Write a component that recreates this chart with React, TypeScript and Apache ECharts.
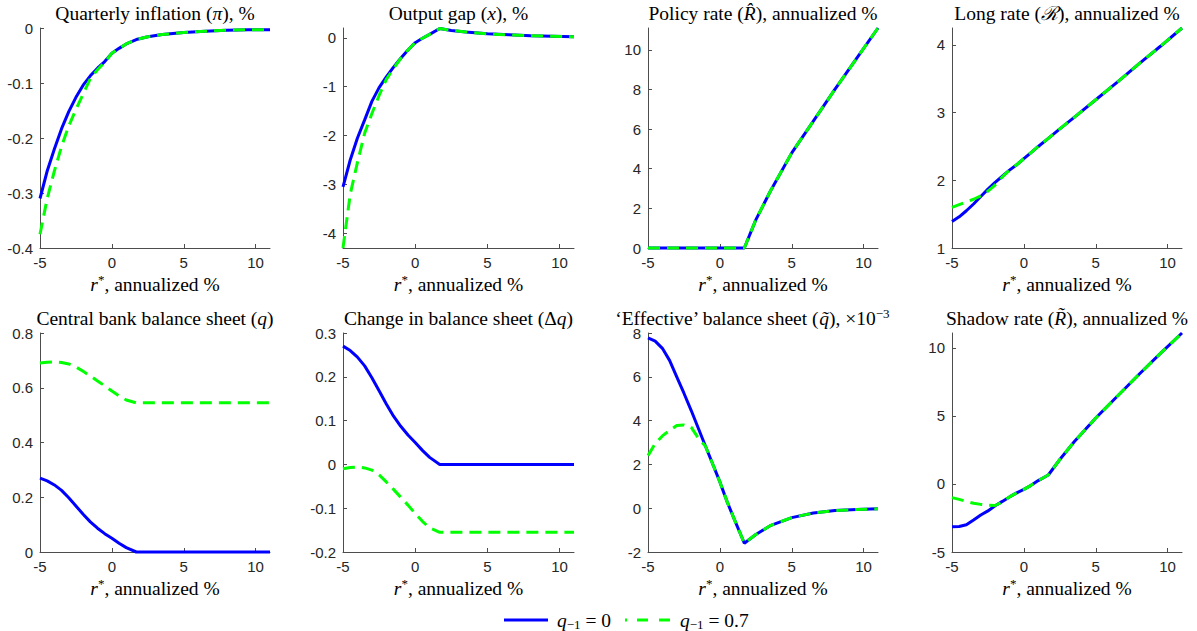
import React, { useEffect, useRef } from 'react';
import * as echarts from 'echarts';

// r*, annualized %
const X = [-5, -4.5, -4, -3.5, -3, -2.5, -2, -1.5, -1, -0.5, 0, 0.5, 1, 1.7, 2.5, 3.5, 5, 6.5, 8, 9.5, 11];

// Quarterly inflation
const inflA = [-0.31, -0.26, -0.22, -0.183, -0.152, -0.126, -0.104, -0.087, -0.073, -0.061, -0.046, -0.037, -0.029, -0.021, -0.016, -0.012, -0.008, -0.006, -0.004, -0.003, -0.003];
const inflB = [-0.375, -0.31, -0.26, -0.215, -0.178, -0.148, -0.12, -0.092, -0.076, -0.062, -0.046, -0.037, -0.029, -0.021, -0.016, -0.012, -0.008, -0.006, -0.004, -0.003, -0.003];
// Output gap
const gapA = [-3.05, -2.5, -2.05, -1.68, -1.3, -1.02, -0.8, -0.6, -0.42, -0.25, -0.1, -0.01, 0.07, 0.19, 0.15, 0.12, 0.08, 0.06, 0.04, 0.03, 0.02];
const gapB = [-4.3, -3.2, -2.55, -1.95, -1.55, -1.18, -0.85, -0.63, -0.42, -0.25, -0.1, -0.01, 0.07, 0.19, 0.15, 0.12, 0.08, 0.06, 0.04, 0.03, 0.02];
// Policy rate
const polA = [0, 0, 0, 0, 0, 0, 0, 0, 0, 0, 0, 0, 0, 0, 1.42, 2.85, 4.8, 6.4, 8.0, 9.55, 11.1];
const polB = [0, 0, 0, 0, 0, 0, 0, 0, 0, 0, 0, 0, 0, 0, 1.42, 2.85, 4.8, 6.4, 8.0, 9.55, 11.1];
// Long rate
const longA = [1.39, 1.46, 1.55, 1.65, 1.76, 1.87, 1.97, 2.06, 2.15, 2.23, 2.32, 2.41, 2.5, 2.62, 2.76, 2.93, 3.19, 3.45, 3.72, 3.98, 4.25];
const longB = [1.6, 1.64, 1.68, 1.72, 1.77, 1.84, 1.93, 2.05, 2.15, 2.23, 2.32, 2.41, 2.5, 2.62, 2.76, 2.93, 3.19, 3.45, 3.72, 3.98, 4.25];
// Central bank balance sheet
const qA = [0.27, 0.26, 0.245, 0.225, 0.198, 0.168, 0.138, 0.11, 0.087, 0.067, 0.05, 0.032, 0.016, 0, 0, 0, 0, 0, 0, 0, 0];
const qB = [0.69, 0.693, 0.694, 0.692, 0.687, 0.676, 0.66, 0.643, 0.625, 0.607, 0.588, 0.57, 0.555, 0.545, 0.545, 0.545, 0.545, 0.545, 0.545, 0.545, 0.545];
// Change in balance sheet
const dqA = [0.27, 0.26, 0.245, 0.225, 0.198, 0.168, 0.138, 0.11, 0.087, 0.067, 0.05, 0.032, 0.016, 0, 0, 0, 0, 0, 0, 0, 0];
const dqB = [-0.01, -0.007, -0.006, -0.008, -0.013, -0.024, -0.04, -0.057, -0.075, -0.093, -0.112, -0.13, -0.145, -0.155, -0.155, -0.155, -0.155, -0.155, -0.155, -0.155, -0.155];
// Effective balance sheet (x 10^-3)
const effA = [7.78, 7.63, 7.3, 6.75, 6.0, 5.25, 4.47, 3.65, 2.83, 2.02, 1.2, 0.3, -0.5, -1.6, -1.2, -0.8, -0.43, -0.22, -0.11, -0.06, -0.03];
const effB = [2.4, 2.95, 3.3, 3.55, 3.78, 3.8, 3.7, 3.2, 2.83, 2.02, 1.2, 0.3, -0.5, -1.6, -1.2, -0.8, -0.43, -0.22, -0.11, -0.06, -0.03];
// Shadow rate
const shA = [-3.15, -3.12, -3.0, -2.65, -2.28, -1.98, -1.6, -1.28, -0.95, -0.65, -0.4, -0.1, 0.25, 0.66, 1.8, 3.1, 4.85, 6.45, 8.05, 9.6, 11.1];
const shB = [-1.0, -1.13, -1.28, -1.42, -1.5, -1.55, -1.58, -1.32, -0.95, -0.65, -0.4, -0.1, 0.25, 0.66, 1.8, 3.1, 4.85, 6.45, 8.05, 9.6, 11.1];

const xTicks = [-5, 0, 5, 10];
const yTicks1 = [-0.4, -0.3, -0.2, -0.1, 0];
const yTicks2 = [-4, -3, -2, -1, 0];
const yTicks3 = [0, 2, 4, 6, 8, 10];
const yTicks4 = [1, 2, 3, 4];
const yTicks5 = [0, 0.2, 0.4, 0.6, 0.8];
const yTicks6 = [-0.2, -0.1, 0, 0.1, 0.2, 0.3];
const yTicks7 = [-2, 0, 2, 4, 6, 8];
const yTicks8 = [-5, 0, 5, 10];

const titles = [
  '{n|Quarterly inflation (}{i|π}{n|), %}',
  '{n|Output gap (}{i|x}{n|), %}',
  '{n|Policy rate (}{i|R̂}{n|), annualized %}',
  '{n|Long rate (}{i|ℛ}{n|), annualized %}',
  '{n|Central bank balance sheet (}{i|q}{n|)}',
  '{n|Change in balance sheet (Δ}{i|q}{n|)}',
  '{n|‘Effective’ balance sheet (}{i|q̃}{n|), ×10}{sup|−3}',
  '{n|Shadow rate (}{i|R̃}{n|), annualized %}',
];
const xName = '{i|r}{sup|*}{n|, annualized %}';
const legendLabels = ['{i|q}{sub|−1}{n| = 0}', '{i|q}{sub|−1}{n| = 0.7}'];

const SERIF = 'Liberation Serif';
const AX = '#4d4d4d';
const TXT = '#262626';
const BLUE = '#0000ff';
const GREEN = '#00ff00';
const FS = 19.5;

const cols = [
  { left: 40, width: 230 },
  { left: 343, width: 231 },
  { left: 648, width: 230 },
  { left: 952, width: 230 },
];
const rows = [
  { top: 28, height: 220, ty: 13 },
  { top: 333, height: 219, ty: 318 },
];

const panels = [
  { a: inflA, b: inflB, min: -0.4, max: 0, ticks: yTicks1 },
  { a: gapA, b: gapB, min: -4.3, max: 0.2, ticks: yTicks2 },
  { a: polA, b: polB, min: 0, max: 11.1, ticks: yTicks3 },
  { a: longA, b: longB, min: 1, max: 4.25, ticks: yTicks4 },
  { a: qA, b: qB, min: 0, max: 0.8, ticks: yTicks5 },
  { a: dqA, b: dqB, min: -0.2, max: 0.3, ticks: yTicks6 },
  { a: effA, b: effB, min: -2, max: 8, ticks: yTicks7 },
  { a: shA, b: shB, min: -5, max: 11.1, ticks: yTicks8 },
];

const rich = {
  n: { fontFamily: SERIF, fontSize: FS, lineHeight: 22 },
  i: { fontFamily: SERIF, fontSize: FS, fontStyle: 'italic', lineHeight: 22 },
  sup: { fontFamily: SERIF, fontSize: 13, lineHeight: 22, verticalAlign: 'top' },
  sub: { fontFamily: SERIF, fontSize: 13, lineHeight: 22, verticalAlign: 'bottom' },
};

const fmt = (v: number) => String(Number(v.toFixed(3)));

export default function App() {
  const ref = useRef<HTMLDivElement>(null);
  useEffect(() => {
    if (!ref.current) return;
    const chart = echarts.init(ref.current, undefined, { renderer: 'svg' });
    const grid: any[] = [];
    const xAxis: any[] = [];
    const yAxis: any[] = [];
    const series: any[] = [];
    const graphic: any[] = [];
    panels.forEach((p, i) => {
      const c = cols[i % 4];
      const r = rows[Math.floor(i / 4)];
      grid.push({ left: c.left, top: r.top, width: c.width, height: r.height, containLabel: false });
      xAxis.push({
        gridIndex: i, type: 'value', min: -5, max: 11,
        axisLine: { show: true, onZero: false, lineStyle: { color: AX, width: 1 } },
        axisTick: { show: true, inside: true, length: 4, customValues: xTicks, lineStyle: { color: AX } },
        axisLabel: { customValues: xTicks, color: TXT, fontSize: 15, margin: 7, formatter: fmt },
        splitLine: { show: false },
        name: xName,
        nameLocation: 'middle', nameGap: 25,
        nameTextStyle: { color: '#000', rich },
      });
      yAxis.push({
        gridIndex: i, type: 'value', min: p.min, max: p.max,
        axisLine: { show: true, onZero: false, lineStyle: { color: AX, width: 1 } },
        axisTick: { show: true, inside: true, length: 4, customValues: p.ticks, lineStyle: { color: AX } },
        axisLabel: { customValues: p.ticks, color: TXT, fontSize: 15, margin: 7, formatter: fmt },
        splitLine: { show: false },
      });
      series.push({
        type: 'line', name: 'q0', xAxisIndex: i, yAxisIndex: i, symbol: 'none', clip: false,
        data: X.map((x, k) => [x, p.a[k]]),
        lineStyle: { color: BLUE, width: 3 }, itemStyle: { color: BLUE },
      });
      series.push({
        type: 'line', name: 'q07', xAxisIndex: i, yAxisIndex: i, symbol: 'none', clip: false,
        data: X.map((x, k) => [x, p.b[k]]),
        lineStyle: { color: GREEN, width: 3, type: [12, 7] }, itemStyle: { color: GREEN },
      });
      const cx = i === 6 ? 752 : c.left + c.width / 2;
      graphic.push({
        type: 'text', x: cx, y: r.ty,
        style: { text: titles[i], fill: '#000', align: 'center', verticalAlign: 'middle', rich },
      });
    });
    const ly = 620;
    graphic.push({ type: 'line', shape: { x1: 504, y1: ly, x2: 548, y2: ly }, style: { stroke: BLUE, lineWidth: 3 } });
    graphic.push({ type: 'text', x: 557, y: ly, style: { text: legendLabels[0], fill: '#000', verticalAlign: 'middle', rich } });
    graphic.push({ type: 'line', shape: { x1: 625, y1: ly, x2: 627, y2: ly }, style: { stroke: GREEN, lineWidth: 3 } });
    graphic.push({ type: 'line', shape: { x1: 637, y1: ly, x2: 648, y2: ly }, style: { stroke: GREEN, lineWidth: 3 } });
    graphic.push({ type: 'line', shape: { x1: 659, y1: ly, x2: 670, y2: ly }, style: { stroke: GREEN, lineWidth: 3 } });
    graphic.push({ type: 'text', x: 680, y: ly, style: { text: legendLabels[1], fill: '#000', verticalAlign: 'middle', rich } });

    chart.setOption({
      animation: false,
      grid, xAxis, yAxis, series, graphic,
    });
    return () => chart.dispose();
  }, []);
  return <div ref={ref} style={{ position: 'fixed', left: 0, top: 0, width: 1197, height: 631, background: '#fff' }} />;
}
